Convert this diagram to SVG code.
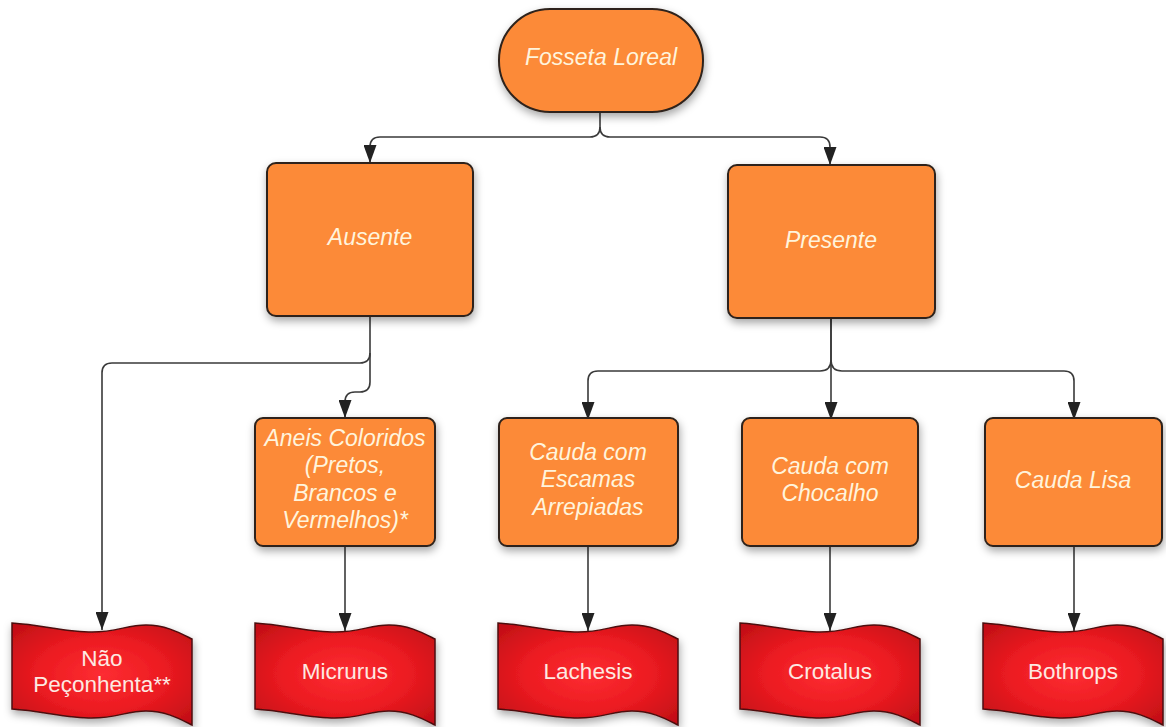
<svg xmlns="http://www.w3.org/2000/svg" xmlns:xlink="http://www.w3.org/1999/xlink" width="1166" height="727" viewBox="0 0 1166 727">
<defs>
<style>
.box{fill:#fc8a38;stroke:#2e231b;stroke-width:2;filter:url(#sh);}
.flag{fill:url(#red);stroke:#4d1010;stroke-width:1.5;filter:url(#sh);}
.t{font-family:"Liberation Sans",Arial,sans-serif;font-style:italic;font-size:23px;fill:#fff4dc;text-anchor:middle;}
.ft{font-family:"Liberation Sans",Arial,sans-serif;font-size:22.5px;fill:#fde9e2;text-anchor:middle;}
.c{fill:none;stroke:#3a3a3a;stroke-width:1.6;}
</style>
<filter id="sh" x="-20%" y="-20%" width="140%" height="150%">
<feDropShadow dx="1" dy="4" stdDeviation="4" flood-color="#000" flood-opacity="0.35"/>
</filter>
<radialGradient id="red" cx="0.5" cy="0.5" r="0.7">
<stop offset="0" stop-color="#fd2d32"/>
<stop offset="0.5" stop-color="#ec1b21"/>
<stop offset="1" stop-color="#bd0e15"/>
</radialGradient>
<marker id="ar" viewBox="0 0 18 13" refX="18" refY="6.5" markerWidth="18" markerHeight="13" markerUnits="userSpaceOnUse" orient="auto">
<path d="M0,0 L18,6.5 L0,13 Z" fill="#222"/>
</marker>
<path id="flagShape" d="M0,0 C30,2 55,9 80,9 C105,9 115,2 134,2 C154,2 168,10 180,16 L180,102 C168,96 154,88 134,88 C115,88 105,95 80,95 C55,95 30,88 0,86 Z"/>
</defs>
<rect width="1166" height="727" fill="#ffffff"/>

<g id="connectors">
<path class="c" d="M600,112 V127 Q600,137 590,137 H380 Q370,137 370,147 V163" marker-end="url(#ar)"/>
<path class="c" d="M600,127 Q600,137 610,137 H820 Q830,137 830,147 V165" marker-end="url(#ar)"/>
<path class="c" d="M370,316 V353 Q370,363 360,363 H112 Q102,363 102,373 V630" marker-end="url(#ar)"/>
<path class="c" d="M370,353 V382 Q370,392 360,392 H355 Q345,392 345,402 V418" marker-end="url(#ar)"/>
<path class="c" d="M831,318 V360 Q831,371 820,371 H598 Q588,371 588,381 V420" marker-end="url(#ar)"/>
<path class="c" d="M831,360 Q831,371 842,371 H1064 Q1074,371 1074,381 V420" marker-end="url(#ar)"/>
<path class="c" d="M831,318 V420" marker-end="url(#ar)"/>
<path class="c" d="M345,546 V631" marker-end="url(#ar)"/>
<path class="c" d="M588,546 V631" marker-end="url(#ar)"/>
<path class="c" d="M830,546 V631" marker-end="url(#ar)"/>
<path class="c" d="M1074,546 V631" marker-end="url(#ar)"/>
</g>

<g id="fosseta">
<rect class="box" x="499" y="9" width="204" height="103" rx="51" ry="51"/>
<text class="t" x="601" y="65">Fosseta Loreal</text>
</g>
<g id="ausente">
<rect class="box" x="267" y="163" width="206" height="153" rx="9"/>
<text class="t" x="370" y="245">Ausente</text>
</g>
<g id="presente">
<rect class="box" x="728" y="165" width="207" height="153" rx="9"/>
<text class="t" x="831" y="248">Presente</text>
</g>
<g id="aneis">
<rect class="box" x="255" y="418" width="180" height="128" rx="8"/>
<text class="t" x="345" y="446">Aneis Coloridos</text>
<text class="t" x="345" y="473">(Pretos,</text>
<text class="t" x="345" y="501">Brancos e</text>
<text class="t" x="345" y="528">Vermelhos)*</text>
</g>
<g id="escamas">
<rect class="box" x="499" y="418" width="179" height="128" rx="8"/>
<text class="t" x="588" y="460">Cauda com</text>
<text class="t" x="588" y="487">Escamas</text>
<text class="t" x="588" y="515">Arrepiadas</text>
</g>
<g id="chocalho">
<rect class="box" x="742" y="418" width="176" height="128" rx="8"/>
<text class="t" x="830" y="474">Cauda com</text>
<text class="t" x="830" y="501">Chocalho</text>
</g>
<g id="lisa">
<rect class="box" x="985" y="418" width="177" height="128" rx="8"/>
<text class="t" x="1073" y="488">Cauda Lisa</text>
</g>

<g id="nao-peconhenta">
<use xlink:href="#flagShape" class="flag" x="12" y="623"/>
<text class="ft" x="102" y="666">Não</text>
<text class="ft" x="102" y="692">Peçonhenta**</text>
</g>
<g id="micrurus">
<use xlink:href="#flagShape" class="flag" x="255" y="623"/>
<text class="ft" x="345" y="679">Micrurus</text>
</g>
<g id="lachesis">
<use xlink:href="#flagShape" class="flag" x="498" y="623"/>
<text class="ft" x="588" y="679">Lachesis</text>
</g>
<g id="crotalus">
<use xlink:href="#flagShape" class="flag" x="740" y="623"/>
<text class="ft" x="830" y="679">Crotalus</text>
</g>
<g id="bothrops">
<use xlink:href="#flagShape" class="flag" x="983" y="623"/>
<text class="ft" x="1073" y="679">Bothrops</text>
</g>
</svg>
